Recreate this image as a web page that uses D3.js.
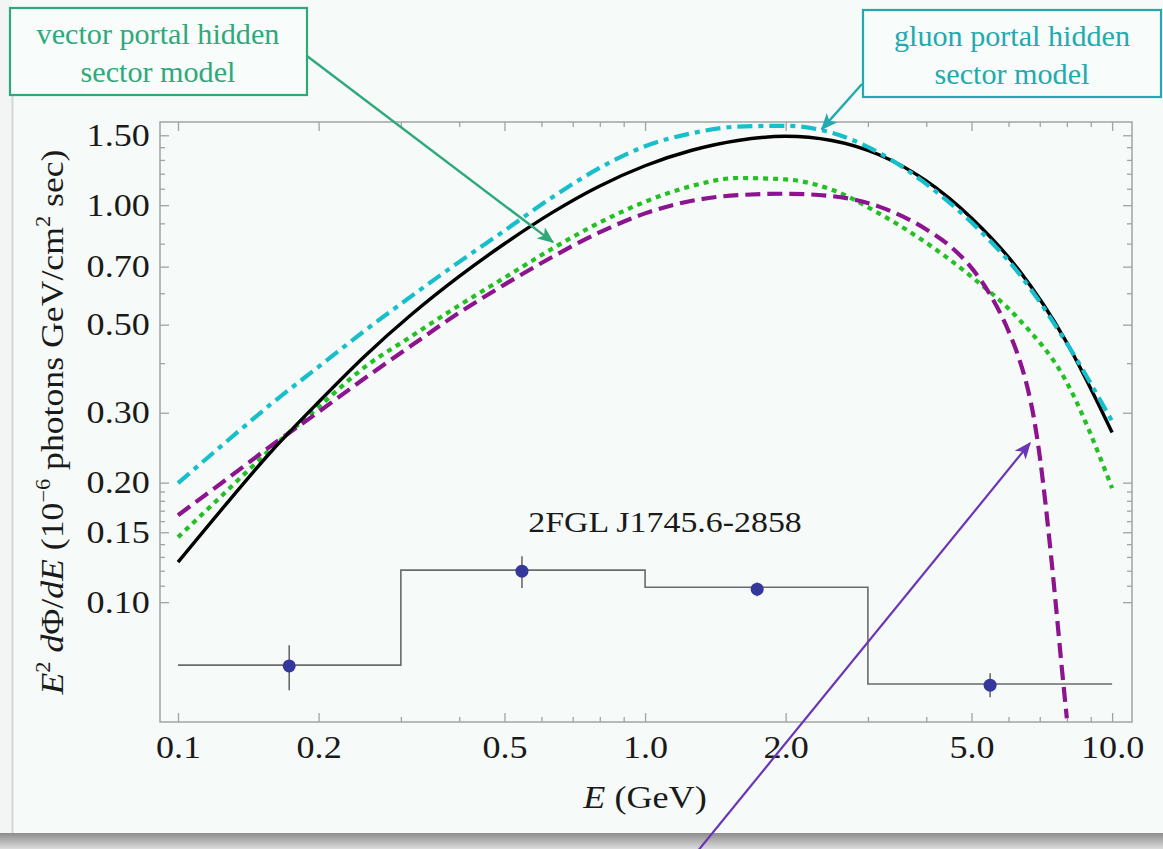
<!DOCTYPE html>
<html><head><meta charset="utf-8">
<script src="https://cdn.jsdelivr.net/npm/d3@7"></script>
<style>html,body{margin:0;padding:0;background:#f2f5f4;} svg{display:block}</style>
</head><body>
<svg id="chart" width="1163" height="849"></svg>
<script>
// Energy grid (GeV), 10 points per decade, shared by three model curves
const energies = [0.1,0.126,0.158,0.2,0.251,0.316,0.398,0.501,0.631,0.794,1.0,1.26,1.58,2.0,2.51,3.16,3.98,5.01,6.31,7.94,10.0];
// E^2 dPhi/dE in 1e-6 photons GeV / cm^2 s
const fitValues    = [0.1261,0.1750,0.2389,0.3193,0.4165,0.5302,0.6586,0.8006,0.9563,1.1132,1.2571,1.3751,1.4555,1.4914,1.4555,1.3419,1.1560,0.9258,0.6871,0.4574,0.2676];
const gluonValues  = [0.1994,0.2518,0.3152,0.3917,0.4827,0.5899,0.7167,0.8640,1.0445,1.2357,1.4073,1.5182,1.5768,1.5849,1.5217,1.3583,1.1360,0.9025,0.6738,0.4548,0.2855];
const vectorValues = [0.1458,0.1886,0.2432,0.3103,0.3908,0.4673,0.5572,0.6573,0.7757,0.9004,1.0200,1.1184,1.1708,1.1614,1.0940,0.9552,0.8073,0.6589,0.5166,0.3633,0.1937];
// Model with a sharp kinematic cutoff just below 8 GeV
const cutoffEnergies = [0.1,0.126,0.158,0.2,0.251,0.316,0.398,0.501,0.631,0.794,1.0,1.26,1.58,2.0,2.51,3.16,3.98,4.5,5.01,5.5,6.0,6.3,6.6,6.8,7.0,7.2,7.4,7.6,7.8,8.0];
const cutoffValues   = [0.1656,0.2025,0.2474,0.3015,0.3664,0.4429,0.5339,0.6317,0.7392,0.8511,0.9535,1.0259,1.0597,1.0684,1.0541,0.9931,0.8721,0.7883,0.6931,0.5910,0.4821,0.4154,0.3441,0.2909,0.2328,0.1772,0.1309,0.0949,0.0687,0.0510];

// Binned catalogue spectrum and measured points
const binEdges  = [0.1,0.3,1.0,3.0,10.0];
const binValues = [0.0694,0.1204,0.109,0.0622];
const pointEnergies = [0.173,0.545,1.738,5.48];
const pointValues   = [0.0691,0.1197,0.1078,0.0618];
const pointLow      = [0.0600,0.1085,0.1035,0.0576];
const pointHigh     = [0.0779,0.1306,0.1120,0.0662];

// Axis ticks
const xTickValues = [0.1,0.2,0.5,1.0,2.0,5.0,10.0];
const xTickLabels = ["0.1","0.2","0.5","1.0","2.0","5.0","10.0"];
const xMinorTicks = [0.3,0.4,0.6,0.7,0.8,0.9,3,4,6,7,8,9];
const yTickValues = [0.10,0.15,0.20,0.30,0.50,0.70,1.00,1.50];
const yTickLabels = ["0.10","0.15","0.20","0.30","0.50","0.70","1.00","1.50"];
const yMinorTicks = [0.11,0.12,0.13,0.14,0.16,0.17,0.18,0.19,0.4,0.6,0.8,0.9,1.1,1.2,1.3,1.4];

// Annotation targets (energy, flux) the arrows point at
const vectorArrowTip = [0.635, 0.807];
const gluonArrowTip  = [2.39, 1.554];
const cutoffArrowTip = [6.67, 0.2515];

const W = 1163, H = 849;
const plot = {left: 160, right: 1132, top: 122, bottom: 722};
const svg = d3.select("#chart");
const serif = "'Liberation Serif','Times New Roman',serif";
const ink = "#1a1a1a";
const widen = 1.13; // horizontal stretch of the serif glyphs

const x = d3.scaleLog().domain([0.0915, 11.03]).range([plot.left, plot.right]);
const y = d3.scaleLog().domain([0.0499, 1.62]).range([plot.bottom, plot.top]);

// Card background with soft bottom shadow
const defs = svg.append("defs");
const sh = defs.append("linearGradient").attr("id","shadow").attr("x1",0).attr("y1",0).attr("x2",0).attr("y2",1);
sh.append("stop").attr("offset","0%").attr("stop-color","#8c8c8c");
sh.append("stop").attr("offset","100%").attr("stop-color","#dcdcdc");
svg.append("rect").attr("x",0).attr("y",0).attr("width",W).attr("height",H).attr("fill","#f2f5f4");
svg.append("rect").attr("x",12).attr("y",0).attr("width",W-12).attr("height",833).attr("fill","#f6faf8");
svg.append("line").attr("x1",12.5).attr("x2",12.5).attr("y1",96).attr("y2",833).attr("stroke","#d4d7d6").attr("stroke-width",2);
svg.append("rect").attr("x",0).attr("y",833).attr("width",W).attr("height",16).attr("fill","url(#shadow)");

// Clip region for curves
defs.append("clipPath").attr("id","plotClip").append("rect")
  .attr("x",plot.left).attr("y",plot.top).attr("width",plot.right-plot.left).attr("height",plot.bottom-plot.top);

// Frame
svg.append("rect").attr("x",plot.left).attr("y",plot.top)
  .attr("width",plot.right-plot.left).attr("height",plot.bottom-plot.top)
  .attr("fill","none").attr("stroke","#a3a3a3").attr("stroke-width",1.5);

function styleAxis(g){
  g.select(".domain").remove();
  g.selectAll(".tick line").attr("stroke","#a3a3a3").attr("stroke-width",1.3);
  g.selectAll(".tick text").attr("fill",ink).attr("font-family",serif).attr("font-size",32)
    .attr("transform",`scale(${widen},1)`);
}
// Major ticks (inward) with labels on bottom/left, mirrored on top/right
svg.append("g").attr("transform",`translate(0,${plot.bottom})`)
  .call(d3.axisBottom(x).tickValues(xTickValues).tickFormat((d,i)=>xTickLabels[i]).tickSize(-9).tickPadding(13))
  .call(styleAxis);
svg.append("g").attr("transform",`translate(0,${plot.bottom})`)
  .call(d3.axisBottom(x).tickValues(xMinorTicks).tickFormat("").tickSize(-5)).call(styleAxis);
svg.append("g").attr("transform",`translate(0,${plot.top})`)
  .call(d3.axisTop(x).tickValues(xTickValues).tickFormat("").tickSize(-9)).call(styleAxis);
svg.append("g").attr("transform",`translate(0,${plot.top})`)
  .call(d3.axisTop(x).tickValues(xMinorTicks).tickFormat("").tickSize(-5)).call(styleAxis);
svg.append("g").attr("transform",`translate(${plot.left},0)`)
  .call(d3.axisLeft(y).tickValues(yTickValues).tickFormat((d,i)=>yTickLabels[i]).tickSize(-9).tickPadding(9))
  .call(styleAxis);
svg.append("g").attr("transform",`translate(${plot.left},0)`)
  .call(d3.axisLeft(y).tickValues(yMinorTicks).tickFormat("").tickSize(-5)).call(styleAxis);
svg.append("g").attr("transform",`translate(${plot.right},0)`)
  .call(d3.axisRight(y).tickValues(yTickValues).tickFormat("").tickSize(-9)).call(styleAxis);
svg.append("g").attr("transform",`translate(${plot.right},0)`)
  .call(d3.axisRight(y).tickValues(yMinorTicks).tickFormat("").tickSize(-5)).call(styleAxis);

// Axis titles
const xt = svg.append("text").attr("transform",`translate(645,808) scale(${widen},1)`).attr("text-anchor","middle")
  .attr("font-family",serif).attr("font-size",32).attr("fill",ink);
xt.append("tspan").attr("font-style","italic").text("E");
xt.append("tspan").text(" (GeV)");

const yt = svg.append("text").attr("transform","translate(63,422) rotate(-90)").attr("text-anchor","middle")
  .attr("font-family",serif).attr("font-size",32).attr("fill",ink)
  .attr("textLength",545).attr("lengthAdjust","spacingAndGlyphs");
yt.append("tspan").attr("font-style","italic").text("E");
yt.append("tspan").attr("font-size",20).attr("dy",-13).text("2");
yt.append("tspan").attr("dy",13).text(" ");
yt.append("tspan").attr("font-style","italic").text("d");
yt.append("tspan").text("Φ/");
yt.append("tspan").attr("font-style","italic").text("dE");
yt.append("tspan").text(" (10");
yt.append("tspan").attr("font-size",20).attr("dy",-13).text("−6");
yt.append("tspan").attr("dy",13).text(" photons GeV/cm");
yt.append("tspan").attr("font-size",20).attr("dy",-13).text("2");
yt.append("tspan").attr("dy",13).text(" sec)");

// Binned spectrum (step histogram)
const stepData = binEdges.map((e,i)=>[e, binValues[Math.min(i,binValues.length-1)]]);
const plotG = svg.append("g").attr("clip-path","url(#plotClip)");
plotG.append("path").datum(stepData)
  .attr("d", d3.line().x(d=>x(d[0])).y(d=>y(d[1])).curve(d3.curveStepAfter))
  .attr("fill","none").attr("stroke","#6a6a6a").attr("stroke-width",1.6);

// Error bars and points
pointEnergies.forEach((e,i)=>{
  plotG.append("line").attr("x1",x(e)).attr("x2",x(e)).attr("y1",y(pointLow[i])).attr("y2",y(pointHigh[i]))
    .attr("stroke","#6a6a6a").attr("stroke-width",1.6);
});
plotG.selectAll("circle.pt").data(pointEnergies).join("circle").attr("class","pt")
  .attr("cx",d=>x(d)).attr("cy",(d,i)=>y(pointValues[i])).attr("r",6.5).attr("fill","#34389a");

svg.append("text").attr("transform",`translate(665,532) scale(${widen},1)`).attr("text-anchor","middle")
  .attr("font-family",serif).attr("font-size",30).attr("fill",ink).text("2FGL J1745.6-2858");

// Model curves
const line = d3.line().x(d=>x(d[0])).y(d=>y(d[1])).curve(d3.curveMonotoneX);
const zip = (a,b)=>a.map((v,i)=>[v,b[i]]);
plotG.append("path").datum(zip(energies,vectorValues)).attr("d",line)
  .attr("fill","none").attr("stroke","#22c022").attr("stroke-width",4.2).attr("stroke-dasharray","5,5");
plotG.append("path").datum(zip(cutoffEnergies,cutoffValues)).attr("d",line)
  .attr("fill","none").attr("stroke","#8c148f").attr("stroke-width",4.2).attr("stroke-dasharray","15,7");
plotG.append("path").datum(zip(energies,fitValues)).attr("d",line)
  .attr("fill","none").attr("stroke","#000").attr("stroke-width",3.4);
plotG.append("path").datum(zip(energies,gluonValues)).attr("d",line)
  .attr("fill","none").attr("stroke","#17bfcb").attr("stroke-width",4.2).attr("stroke-dasharray","15,6,5,6");

// Arrow heads
function marker(id,color){
  defs.append("marker").attr("id",id).attr("viewBox","0 0 12 10").attr("refX",11).attr("refY",5)
    .attr("markerUnits","userSpaceOnUse").attr("markerWidth",17).attr("markerHeight",14).attr("orient","auto")
    .append("path").attr("d","M0,0 L12,5 L0,10 L3,5 z").attr("fill",color);
}
const greenC = "#2fa97c", tealC = "#22aab0", purpleC = "#6b35b5";
marker("arrGreen",greenC); marker("arrTeal",tealC); marker("arrPurple",purpleC);

// Annotation boxes
function box(x0,y0,w,h,color,lines,cx){
  svg.append("rect").attr("x",x0).attr("y",y0).attr("width",w).attr("height",h)
    .attr("fill","#f8fcfa").attr("stroke",color).attr("stroke-width",2.2);
  lines.forEach((t,i)=>svg.append("text").attr("transform",`translate(${cx},${y0+36+i*38}) scale(1.04,1)`)
    .attr("text-anchor","middle").attr("font-family",serif).attr("font-size",29).attr("fill",color).text(t));
}
box(10,8,297,87,greenC,["vector portal hidden","sector model"],158);
box(863,10,298,87,tealC,["gluon portal hidden","sector model"],1012);

svg.append("line").attr("x1",307).attr("y1",56).attr("x2",x(vectorArrowTip[0])).attr("y2",y(vectorArrowTip[1]))
  .attr("stroke",greenC).attr("stroke-width",2.4).attr("marker-end","url(#arrGreen)");
svg.append("line").attr("x1",862).attr("y1",84).attr("x2",x(gluonArrowTip[0])).attr("y2",y(gluonArrowTip[1]))
  .attr("stroke",tealC).attr("stroke-width",2.4).attr("marker-end","url(#arrTeal)");
svg.append("line").attr("x1",697).attr("y1",852).attr("x2",x(cutoffArrowTip[0])).attr("y2",y(cutoffArrowTip[1]))
  .attr("stroke",purpleC).attr("stroke-width",2.2).attr("marker-end","url(#arrPurple)");
</script>
</body></html>
